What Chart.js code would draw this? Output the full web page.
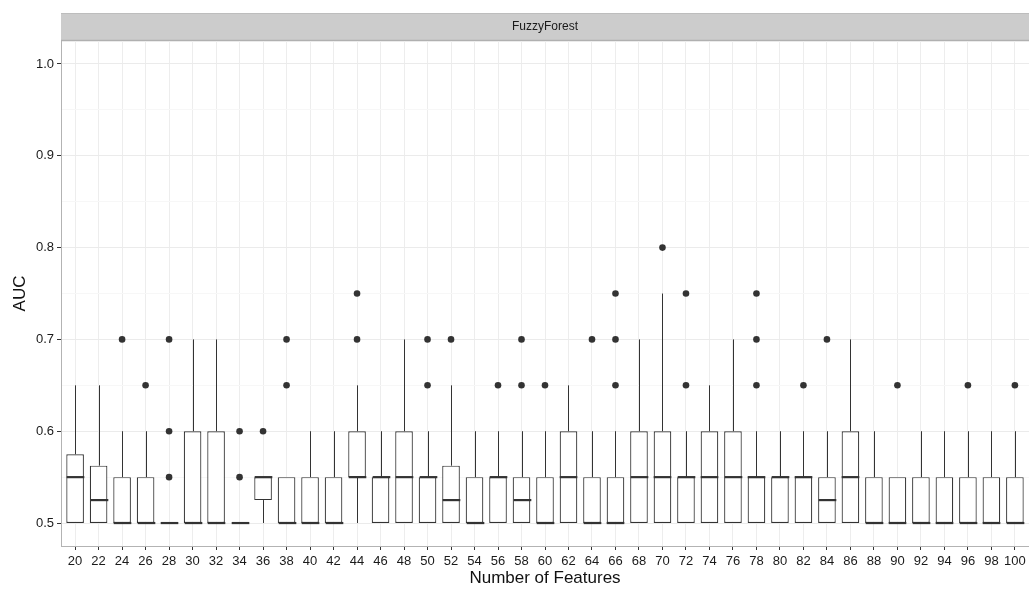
<!DOCTYPE html>
<html>
<head>
<meta charset="utf-8">
<script src="https://cdn.jsdelivr.net/npm/chart.js@4/dist/chart.umd.min.js"></script>
<style>
  html, body { margin: 0; padding: 0; background: #fff; overflow: hidden; }
  canvas { display: block; }
</style>
</head>
<body>
<canvas id="auc" width="1029" height="590"></canvas>
<script>
// box plot values, one entry per feature count
const features = [20, 22, 24, 26, 28, 30, 32, 34, 36, 38, 40, 42, 44, 46, 48, 50, 52, 54, 56, 58, 60,
    62, 64, 66, 68, 70, 72, 74, 76, 78, 80, 82, 84, 86, 88, 90, 92, 94, 96, 98, 100];
const q1 = [0.5, 0.5, 0.5, 0.5, 0.5, 0.5, 0.5, 0.5, 0.525, 0.5, 0.5, 0.5, 0.55, 0.5, 0.5, 0.5, 0.5, 0.5, 0.5, 0.5, 0.5,
    0.5, 0.5, 0.5, 0.5, 0.5, 0.5, 0.5, 0.5, 0.5, 0.5, 0.5, 0.5, 0.5, 0.5, 0.5, 0.5, 0.5, 0.5, 0.5, 0.5];
const medians = [0.55, 0.525, 0.5, 0.5, 0.5, 0.5, 0.5, 0.5, 0.55, 0.5, 0.5, 0.5, 0.55, 0.55, 0.55, 0.55, 0.525, 0.5, 0.55, 0.525, 0.5,
    0.55, 0.5, 0.5, 0.55, 0.55, 0.55, 0.55, 0.55, 0.55, 0.55, 0.55, 0.525, 0.55, 0.5, 0.5, 0.5, 0.5, 0.5, 0.5, 0.5];
const q3 = [0.575, 0.5625, 0.55, 0.55, 0.5, 0.6, 0.6, 0.5, 0.55, 0.55, 0.55, 0.55, 0.6, 0.55, 0.6, 0.55, 0.5625, 0.55, 0.55, 0.55, 0.55,
    0.6, 0.55, 0.55, 0.6, 0.6, 0.55, 0.6, 0.6, 0.55, 0.55, 0.55, 0.55, 0.6, 0.55, 0.55, 0.55, 0.55, 0.55, 0.55, 0.55];
const whiskerLow = [0.5, 0.5, 0.5, 0.5, 0.5, 0.5, 0.5, 0.5, 0.5, 0.5, 0.5, 0.5, 0.5, 0.5, 0.5, 0.5, 0.5, 0.5, 0.5, 0.5, 0.5,
    0.5, 0.5, 0.5, 0.5, 0.5, 0.5, 0.5, 0.5, 0.5, 0.5, 0.5, 0.5, 0.5, 0.5, 0.5, 0.5, 0.5, 0.5, 0.5, 0.5];
const whiskerHigh = [0.65, 0.65, 0.6, 0.6, 0.5, 0.7, 0.7, 0.5, 0.55, 0.55, 0.6, 0.6, 0.65, 0.6, 0.7, 0.6, 0.65, 0.6, 0.6, 0.6, 0.6,
    0.65, 0.6, 0.6, 0.7, 0.75, 0.6, 0.65, 0.7, 0.6, 0.6, 0.6, 0.6, 0.7, 0.6, 0.55, 0.6, 0.6, 0.6, 0.6, 0.6];
const outliers = [[], [], [0.7], [0.65], [0.55, 0.6, 0.7], [], [], [0.55, 0.6], [0.6], [0.65, 0.7], [], [], [0.7, 0.75], [], [], [0.65, 0.7], [0.7], [], [0.65], [0.65, 0.7], [0.65],
    [], [0.7], [0.65, 0.7, 0.75], [], [0.8], [0.65, 0.75], [], [], [0.65, 0.7, 0.75], [], [0.65], [0.7], [], [], [0.65], [], [], [0.65], [], [0.65]];
const yTicks = [0.5, 0.6, 0.7, 0.8, 0.9, 1.0];

const panelTitle = 'FuzzyForest';
const ink = '#333333';
const fontFamily = '"Liberation Sans", Arial, sans-serif';

const isMajor = (v) => yTicks.some((t) => Math.abs(t - v) < 1e-6);

// major ticks plus the minor lines half way between them
const yAllTicks = [];
yTicks.forEach((t, i) => {
    yAllTicks.push(t);
    if (i < yTicks.length - 1) yAllTicks.push((t + yTicks[i + 1]) / 2);
});

const outlierPoints = [];
features.forEach((f, i) => {
    outliers[i].forEach((v) => outlierPoints.push({ x: f, y: v }));
});

// strip on top, plus whiskers and median lines
const boxExtras = {
    id: 'boxExtras',
    beforeDraw(chart) {
        const { ctx, chartArea } = chart;
        ctx.save();
        ctx.fillStyle = '#cccccc';
        ctx.fillRect(chartArea.left, 13, chartArea.right - chartArea.left, chartArea.top - 13);
        ctx.strokeStyle = '#bdbdbd';
        ctx.lineWidth = 1;
        ctx.beginPath();
        ctx.moveTo(chartArea.left, 13.5);
        ctx.lineTo(chartArea.right, 13.5);
        ctx.stroke();
        ctx.strokeStyle = '#b0b0b0';
        ctx.lineWidth = 1.5;
        ctx.beginPath();
        ctx.moveTo(chartArea.left, chartArea.top - 0.5);
        ctx.lineTo(chartArea.right, chartArea.top - 0.5);
        ctx.stroke();
        ctx.fillStyle = '#1a1a1a';
        ctx.font = '12px ' + fontFamily;
        ctx.textAlign = 'center';
        ctx.textBaseline = 'middle';
        ctx.fillText(panelTitle, (chartArea.left + chartArea.right) / 2, 27);
        ctx.restore();
    },
    afterDatasetsDraw(chart) {
        const { ctx } = chart;
        const x = chart.scales.x;
        const y = chart.scales.y;
        const meta = chart.getDatasetMeta(0);
        ctx.save();
        ctx.strokeStyle = ink;
        features.forEach((f, i) => {
            const cx = Math.round(x.getPixelForValue(f)) + 0.5;
            const half = meta.data[i].width / 2;
            ctx.lineWidth = 1;
            ctx.beginPath();
            if (whiskerHigh[i] > q3[i]) {
                ctx.moveTo(cx, y.getPixelForValue(q3[i]));
                ctx.lineTo(cx, y.getPixelForValue(whiskerHigh[i]));
            }
            if (whiskerLow[i] < q1[i]) {
                ctx.moveTo(cx, y.getPixelForValue(q1[i]));
                ctx.lineTo(cx, y.getPixelForValue(whiskerLow[i]));
            }
            ctx.stroke();
            const my = y.getPixelForValue(medians[i]);
            ctx.lineWidth = 2.2;
            ctx.beginPath();
            ctx.moveTo(cx - half, my);
            ctx.lineTo(cx + half, my);
            ctx.stroke();
        });
        ctx.restore();
    },
};

const ctx = document.getElementById('auc').getContext('2d');

const myChart = new Chart(ctx, {
    type: 'bar',
    data: {
        labels: features,
        datasets: [
            {
                label: 'box',
                data: features.map((f, i) => [q1[i], q3[i]]),
                backgroundColor: '#ffffff',
                borderColor: ink,
                borderWidth: 1.2,
                borderSkipped: false,
                barPercentage: 0.75,
                categoryPercentage: 1,
            },
            {
                type: 'line',
                label: 'outliers',
                data: outlierPoints,
                showLine: false,
                pointRadius: 3.3,
                pointBackgroundColor: ink,
                pointBorderColor: ink,
                pointBorderWidth: 0,
            },
        ],
    },
    options: {
        responsive: false,
        animation: false,
        layout: { autoPadding: false, padding: { top: 41, right: 0, left: 0, bottom: 0 } },
        plugins: {
            legend: { display: false },
            tooltip: { enabled: false },
        },
        scales: {
            x: {
                type: 'linear',
                min: 18.8,
                max: 101.2,
                bounds: 'data',
                offset: false,
                afterBuildTicks: (scale) => { scale.ticks = features.map((v) => ({ value: v })); },
                afterFit: (scale) => {
                    scale.height = 44;
                    scale.paddingLeft = 0;
                    scale.paddingRight = 0;
                },
                ticks: {
                    autoSkip: false,
                    maxRotation: 0,
                    padding: 4,
                    color: '#1a1a1a',
                    font: { family: fontFamily, size: 13 },
                    callback: (v) => String(v),
                },
                grid: {
                    offset: false,
                    color: '#ededed',
                    tickColor: ink,
                    tickLength: 4,
                },
                border: { color: '#b3b3b3', width: 1 },
                title: {
                    display: true,
                    text: 'Number of Features',
                    color: '#111111',
                    font: { family: fontFamily, size: 17 },
                    padding: { top: 0, bottom: 1 },
                },
            },
            y: {
                min: 0.475,
                max: 1.025,
                bounds: 'data',
                afterBuildTicks: (scale) => { scale.ticks = yAllTicks.map((v) => ({ value: v })); },
                afterFit: (scale) => {
                    scale.width = 61;
                    scale.paddingTop = 0;
                    scale.paddingBottom = 0;
                },
                ticks: {
                    padding: 3,
                    color: '#1a1a1a',
                    font: { family: fontFamily, size: 13 },
                    callback: (v) => (isMajor(v) ? v.toFixed(1) : ''),
                },
                grid: {
                    color: (c) => (c.tick && isMajor(c.tick.value) ? '#ebebeb' : '#f7f7f7'),
                    tickColor: (c) => (c.tick && isMajor(c.tick.value) ? ink : 'rgba(0,0,0,0)'),
                    tickLength: 4,
                },
                border: { color: '#b3b3b3', width: 1 },
                title: {
                    display: true,
                    text: 'AUC',
                    color: '#111111',
                    font: { family: fontFamily, size: 17 },
                    padding: { top: 10, bottom: 0 },
                },
            },
        },
    },
    plugins: [boxExtras],
});
</script>
</body>
</html>
